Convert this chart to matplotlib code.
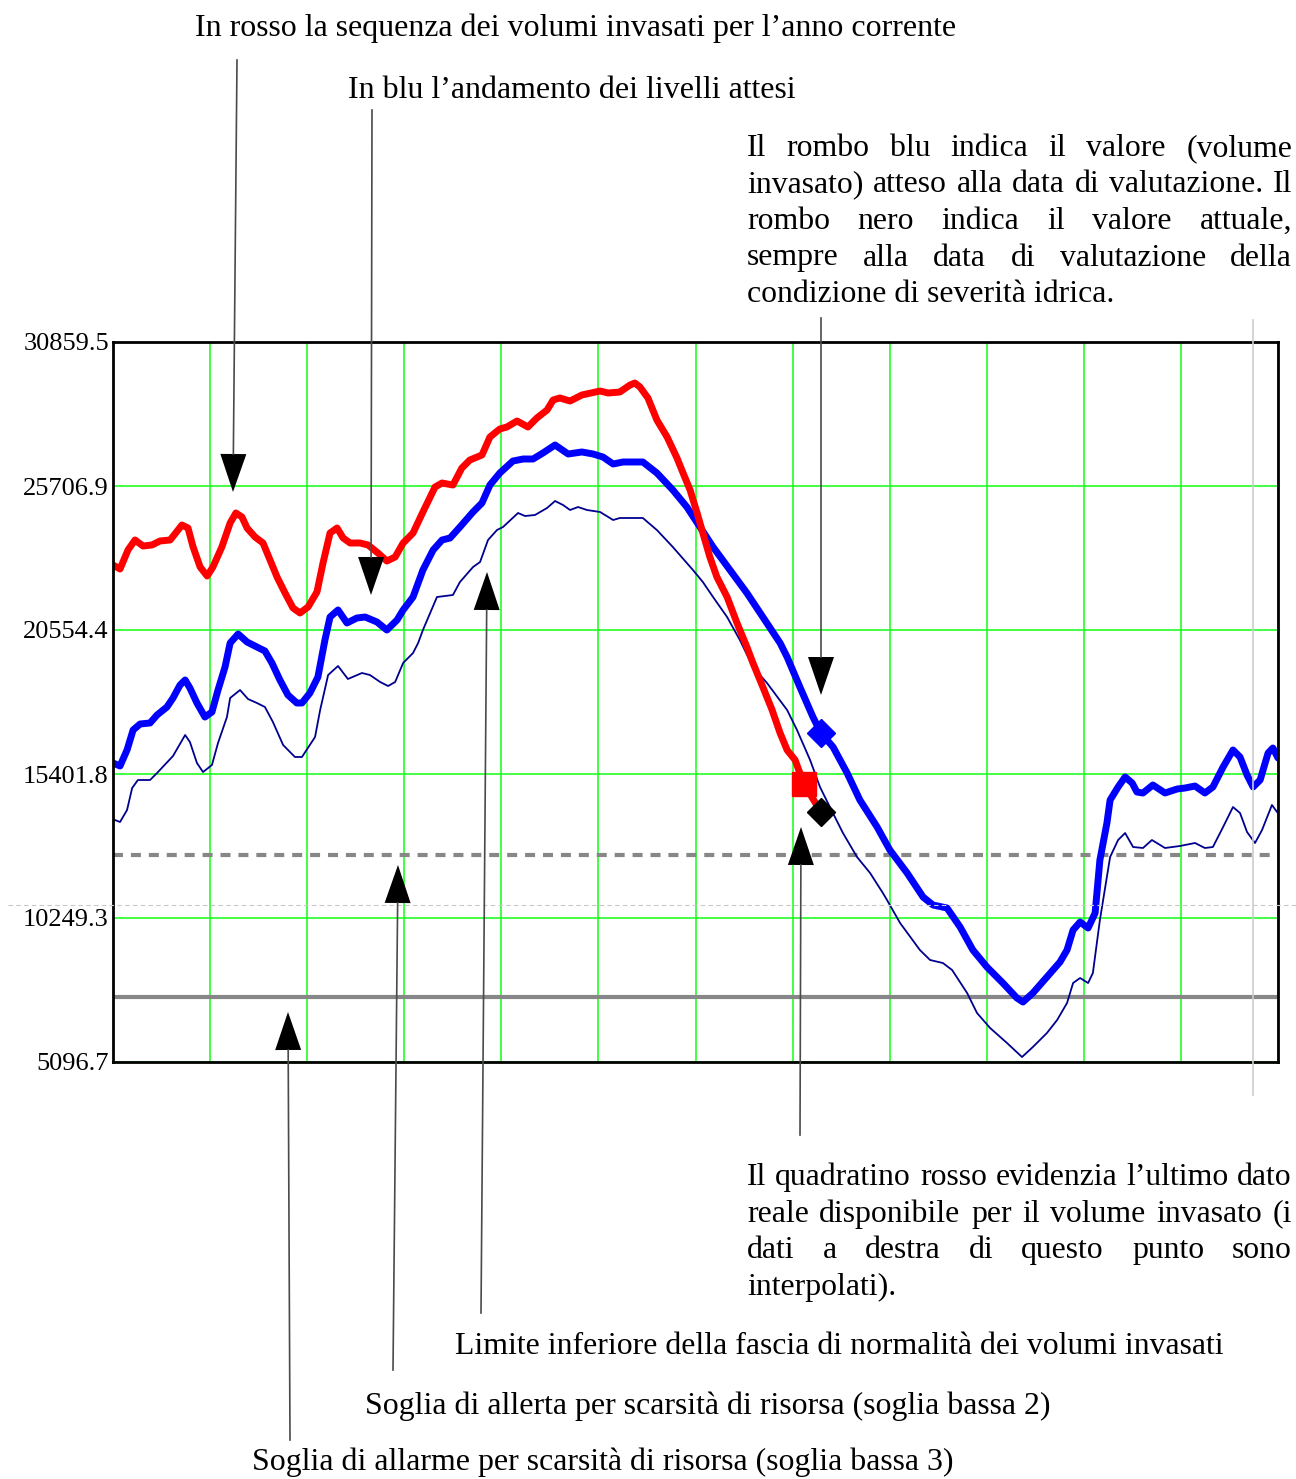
import matplotlib
matplotlib.use("Agg")
import matplotlib.pyplot as plt
from matplotlib.patches import Polygon
import numpy as np

# ---------------- data ----------------
y_ticks = [5096.7, 10249.3, 15401.8, 20554.4, 25706.9, 30859.5]
y_labels = ["5096.7", "10249.3", "15401.8", "20554.4", "25706.9", "30859.5"]

# current year stored volumes (red)
red_day = [0, 2.2, 4.7, 6.9, 9.4, 12.2, 14.7, 17.9, 19.4, 21.6,
           23.5, 25.1, 27.3, 29.5, 31.3, 34.1, 36.7, 38.5, 40.4, 42.0,
           44.5, 47.0, 49.2, 51.4, 53.9, 56.4, 58.6, 61.1, 63.9, 65.8,
           68.0, 70.2, 72.1, 74.3, 77.4, 79.9, 83.0, 85.8, 88.4, 90.9,
           94.0, 97.1, 100.9, 103.1, 106.5, 109.3, 111.8, 115.6, 118.1, 121.2,
           123.4, 126.6, 130.0, 132.8, 136.0, 137.9, 140.0, 143.2, 146.9, 152.6,
           155.1, 158.8, 162.0, 163.5, 165.1, 167.6, 170.4, 173.6, 176.7, 178.6,
           180.8, 183.0, 184.8, 187.0, 189.2, 192.4, 195.5, 198.6, 200.5, 203.6,
           206.5, 209.0, 211.2, 213.7, 215.2, 216.5, 219.9, 221.8]
red_vol = [22880, 22737, 23417, 23775, 23560, 23596, 23739, 23775, 23989, 24311,
           24204, 23524, 22808, 22486, 22808, 23524, 24383, 24741, 24598, 24204,
           23882, 23667, 23059, 22451, 21878, 21341, 21163, 21377, 21914, 22952,
           24025, 24204, 23846, 23667, 23667, 23596, 23310, 23023, 23166, 23667,
           24025, 24777, 25671, 25814, 25743, 26351, 26637, 26816, 27460, 27747,
           27818, 28033, 27818, 28140, 28426, 28784, 28856, 28748, 28963, 29106,
           29035, 29070, 29321, 29392, 29249, 28856, 28068, 27460, 26709, 26172,
           25564, 24741, 24025, 23166, 22451, 21735, 20805, 19946, 19374, 18515,
           17692, 16869, 16261, 15903, 15437, 15044, 14400, 14042]

# expected levels (thick blue)
blue_day = [0, 2.2, 4.4, 6.3, 8.5, 11.6, 13.8, 16.9, 18.8, 21.0,
            22.6, 24.1, 26.3, 28.8, 31.0, 32.9, 35.1, 36.7, 39.2, 42.0,
            45.1, 47.6, 49.8, 52.3, 54.8, 57.6, 59.2, 61.7, 64.2, 66.4,
            68.0, 70.5, 73.3, 76.4, 79.0, 82.7, 85.8, 89.0, 90.9, 94.0,
            97.1, 100.3, 103.1, 105.6, 108.7, 112.8, 115.6, 118.1, 121.2, 125.3,
            128.5, 131.6, 134.7, 138.5, 142.6, 146.9, 150.4, 153.5, 156.7, 159.8,
            166.0, 170.4, 175.4, 179.8, 183.9, 188.0, 193.3, 198.6, 203.6, 209.0,
            211.2, 215.2, 219.3, 221.8, 225.6, 230.0, 234.0, 239.4, 243.4, 248.8,
            253.8, 256.9, 261.3, 265.4, 269.4, 273.8, 278.8, 283.2, 285.1, 288.2,
            292.6, 296.7, 298.9, 300.8, 303.0, 305.5, 307.7, 309.2, 311.4, 312.4,
            314.9, 317.1, 319.3, 320.8, 322.7, 325.8, 329.6, 333.4, 335.9, 339.0,
            342.1, 344.6, 347.8, 350.9, 353.1, 355.3, 357.2, 359.4, 361.9, 363.4,
            365]
blue_vol = [15795, 15688, 16261, 16976, 17191, 17227, 17513, 17799, 18121, 18586,
            18765, 18479, 17942, 17441, 17620, 18407, 19230, 20089, 20411, 20125,
            19946, 19803, 19374, 18765, 18229, 17942, 17942, 18300, 18872, 20196,
            21019, 21270, 20805, 20984, 21019, 20840, 20554, 20912, 21270, 21735,
            22701, 23417, 23775, 23846, 24240, 24777, 25099, 25743, 26172, 26601,
            26673, 26673, 26888, 27174, 26852, 26924, 26852, 26745, 26494, 26566,
            26566, 26172, 25564, 24955, 24240, 23524, 22701, 21878, 21019, 20089,
            19588, 18515, 17441, 16869, 16368, 15437, 14471, 13505, 12682, 11859,
            11000, 10714, 10607, 9927, 9104, 8496, 7923, 7386, 7243, 7565,
            8138, 8675, 9104, 9820, 10106, 9891, 10428, 12324, 13648, 14471,
            14937, 15294, 15080, 14757, 14722, 15008, 14722, 14865, 14901, 14972,
            14722, 14937, 15652, 16261, 16010, 15366, 14937, 15187, 16153, 16332,
            15974]

# lower limit of the normality band (thin dark blue)
thin_day = [0.6, 2.2, 4.4, 6.0, 7.8, 11.6, 13.8, 18.8, 22.6, 24.1,
            26.3, 28.2, 31.0, 32.9, 35.7, 36.7, 39.8, 42.3, 45.1, 47.6,
            50.1, 53.3, 57.0, 59.2, 63.3, 64.9, 67.4, 70.5, 73.6, 78.0,
            80.5, 83.7, 86.2, 88.4, 90.9, 94.0, 95.6, 97.1, 101.5, 106.5,
            108.7, 112.8, 115.0, 117.5, 120.3, 122.2, 126.9, 129.1, 132.2, 136.0,
            138.5, 141.0, 143.2, 145.7, 148.5, 152.6, 156.7, 158.8, 166.0, 170.4,
            175.4, 181.7, 184.8, 188.0, 192.4, 196.4, 200.5, 204.9, 211.2, 214.3,
            218.4, 221.5, 224.6, 228.7, 233.1, 237.2, 241.2, 242.5, 246.6, 252.8,
            256.0, 260.0, 262.9, 267.6, 270.7, 274.8, 280.1, 284.8, 288.2, 292.6,
            295.8, 298.9, 300.8, 303.0, 305.5, 307.0, 309.2, 312.4, 314.9, 317.1,
            319.6, 322.7, 325.5, 329.6, 334.3, 339.0, 342.1, 344.6, 347.8, 350.9,
            353.1, 355.3, 357.8, 360.0, 363.1, 364.7]
thin_vol = [13756, 13684, 14113, 14901, 15187, 15187, 15437, 16046, 16797, 16547,
            15795, 15473, 15724, 16511, 17441, 18121, 18407, 18085, 17942, 17799,
            17262, 16439, 16010, 16010, 16725, 17692, 18944, 19266, 18801, 19016,
            18944, 18694, 18550, 18694, 19374, 19731, 20089, 20554, 21735, 21807,
            22272, 22808, 22987, 23775, 24132, 24240, 24741, 24633, 24669, 24920,
            25170, 25027, 24848, 24955, 24848, 24777, 24490, 24562, 24562, 24132,
            23524, 22701, 22272, 21735, 21019, 20196, 19230, 18658, 17692, 16976,
            15903, 14937, 14221, 13290, 12432, 11859, 11144, 10893, 10070, 9104,
            8746, 8639, 8388, 7565, 6850, 6313, 5776, 5275, 5633, 6134,
            6599, 7207, 7923, 8102, 7923, 8281, 10177, 12432, 13040, 13290,
            12789, 12754, 13040, 12754, 12826, 12933, 12754, 12789, 13505, 14221,
            14006, 13326, 12933, 13398, 14293, 14042]

alert_level = 12503   # soglia bassa 2
alarm_level = 7422    # soglia bassa 3

last_real_day = 216.5
last_real_vol = 15044
eval_day = 221.8
expected_vol = 16869
actual_vol = 14042

# ---------------- figure ----------------
plt.rcParams['font.family'] = ['Liberation Serif', 'DejaVu Serif']

W, H = 1296, 1479
fig = plt.figure(figsize=(W / 100, H / 100), dpi=100)
fig.patch.set_facecolor('white')
L, R, T, B = 113, 1278, 342, 1062
ax = fig.add_axes([L / W, 1 - B / H, (R - L) / W, (B - T) / H])
ax.set_xlim(0, 365)
ax.set_ylim(y_ticks[0], y_ticks[-1])
ax.set_yticks(y_ticks)
ax.set_yticklabels(y_labels, va='center_baseline')
ax.set_xticks(np.linspace(0, 365, 13))
ax.tick_params(axis='both', length=0, labelsize=19, pad=3)
ax.tick_params(axis='x', labelbottom=False)
ax.grid(True, color='#22ff22', lw=1.2)
ax.set_axisbelow(True)
for s in ax.spines.values():
    s.set_linewidth(2.0)
    s.set_color('black')
    s.set_zorder(10)

ax.axhline(alert_level, color='#878787', lw=3.0, ls=(0, (2.4, 1.9)), zorder=2)
ax.axhline(alarm_level, color='#878787', lw=3.0, zorder=2)
ax.plot(thin_day, thin_vol, color='#000090', lw=1.3, zorder=3)
ax.plot(blue_day, blue_vol, color='#0000ff', lw=5.0, zorder=4,
        solid_joinstyle='round', solid_capstyle='round')
ax.plot(red_day, red_vol, color='#ff0000', lw=5.0, zorder=5,
        solid_joinstyle='round', solid_capstyle='round')
ax.plot([last_real_day], [last_real_vol], 's', ms=17, color='#ff0000', zorder=6)
ax.plot([eval_day], [expected_vol], 'D', ms=14, color='#0000ff', zorder=6)
ax.plot([eval_day], [actual_vol], 'D', ms=14, color='black', zorder=6)

# ---------------- overlay for annotations ----------------
ov = fig.add_axes([0, 0, 1, 1], zorder=20)
ov.set_xlim(0, W)
ov.set_ylim(H, 0)
ov.axis('off')
ov.patch.set_alpha(0)

# light guide lines (from the original document)
ov.plot([8, W], [905, 905], color='#c8c8c8', lw=0.8, ls=(0, (4, 3)))
ov.plot([1253, 1253], [320, 1095], color='#cccccc', lw=1.2)


def arrow(x0, y0, xt, yt, hw=26, hl=38):
    v = np.array([xt - x0, yt - y0], float)
    n = np.hypot(*v)
    u = v / n
    p = np.array([-u[1], u[0]])
    base = np.array([xt, yt]) - u * hl
    ov.plot([x0, base[0]], [y0, base[1]], color='#4a4a4a', lw=1.2)
    tri = [(xt, yt), tuple(base + p * hw / 2), tuple(base - p * hw / 2)]
    ov.add_patch(Polygon(tri, closed=True, color='black', lw=0))


arrow(237, 60, 233, 492)
arrow(372, 110, 371, 595)
arrow(821, 318, 821, 695)
arrow(481, 1313, 487, 572)
arrow(393, 1370, 398, 865)
arrow(290, 1440, 288, 1012)
arrow(800, 1135, 801, 827)

renderer = fig.canvas.get_renderer()


def fit_text(s, x0, x1, y, fs=20):
    t = ov.text(x0, y, s, fontsize=fs, ha='left', va='baseline')
    w = t.get_window_extent(renderer).width
    t.set_fontsize(fs * (x1 - x0) / w)
    return t


fit_text("In rosso la sequenza dei volumi invasati per l\u2019anno corrente", 195, 957, 36)
fit_text("In blu l\u2019andamento dei livelli attesi", 348, 796, 98)
fit_text("Limite inferiore della fascia di normalit\u00e0 dei volumi invasati", 455, 1225, 1354)
fit_text("Soglia di allerta per scarsit\u00e0 di risorsa (soglia bassa 2)", 365, 1053, 1414)
fit_text("Soglia di allarme per scarsit\u00e0 di risorsa (soglia bassa 3)", 252, 955, 1470)

# justified paragraphs
tmp = ov.text(0, 0, "condizione di severit\u00e0 idrica.", fontsize=20)
wtmp = tmp.get_window_extent(renderer).width
tmp.remove()
par_fs = 20 * (1114 - 747) / wtmp


def justify(lines, x0, x1, y0, dy, fs):
    for i, line in enumerate(lines):
        y = y0 + i * dy
        if i == len(lines) - 1:
            ov.text(x0, y, line, fontsize=fs, ha='left', va='baseline')
            continue
        words = line.split(' ')
        ts = [ov.text(0, y, w_, fontsize=fs, ha='left', va='baseline') for w_ in words]
        ws = [t.get_window_extent(renderer).width for t in ts]
        gap = (x1 - x0 - sum(ws)) / (len(words) - 1)
        x = x0
        for t, w_ in zip(ts, ws):
            t.set_x(x)
            x += w_ + gap


justify(["Il rombo blu indica il valore (volume",
         "invasato) atteso alla data di valutazione. Il",
         "rombo nero indica il valore attuale,",
         "sempre alla data di valutazione della",
         "condizione di severit\u00e0 idrica."],
        747, 1292, 156, 36.5, par_fs)

justify(["Il quadratino rosso evidenzia l\u2019ultimo dato",
         "reale disponibile per il volume invasato (i",
         "dati a destra di questo punto sono",
         "interpolati)."],
        747, 1292, 1185, 36.7, par_fs)

fig.savefig("out.png", dpi=100, facecolor='white')
